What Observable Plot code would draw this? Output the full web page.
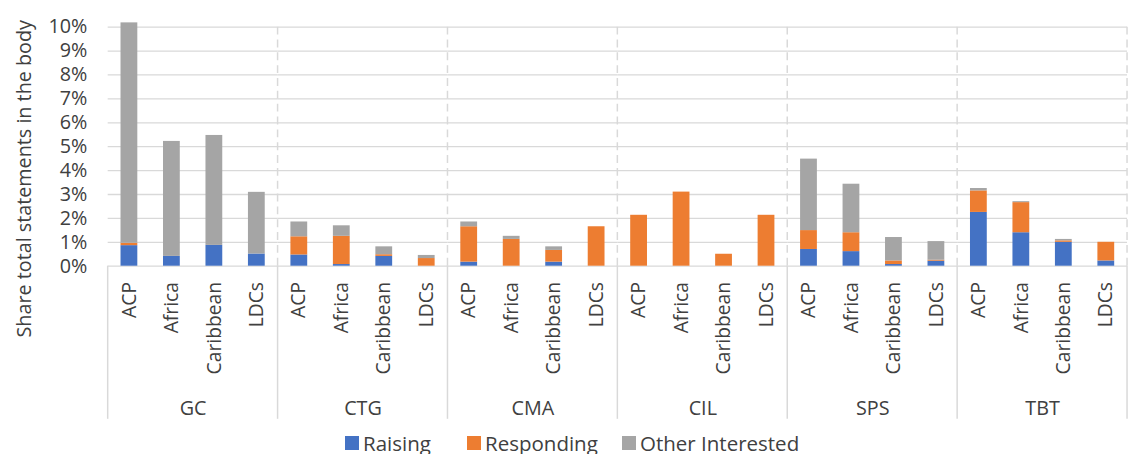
<!DOCTYPE html>
<html>
<head>
<meta charset="utf-8">
<script src="https://cdn.jsdelivr.net/npm/d3@7"></script>
<script src="https://cdn.jsdelivr.net/npm/@observablehq/plot@0.6"></script>
<style>
  html, body { margin: 0; padding: 0; background: #fff; overflow: hidden; }
  #chart svg { display: block; }
  .legend { position: relative; margin-top: 1px; height: 22px; font-family: "Open Sans", sans-serif; font-size: 20.5px; color: #404040; line-height: 22px; white-space: nowrap; }
  .legend .item { position: absolute; top: 0; display: flex; align-items: center; }
  .legend .sw { width: 14px; height: 14px; margin-right: 4px; }
</style>
</head>
<body>
<div id="chart"></div>
<div class="legend" id="legend"></div>
<script>
const groups = ["GC", "CTG", "CMA", "CIL", "SPS", "TBT"];
const categories = ["ACP", "Africa", "Caribbean", "LDCs"];
const series = ["Raising", "Responding", "Other Interested"];
const colors = ["#4472C4", "#ED7D31", "#A5A5A5"];
const yTicks = [0, 1, 2, 3, 4, 5, 6, 7, 8, 9, 10];
const yTitle = "Share total statements in the body";

// values in % (order: groups x categories)
const raising    = [0.86, 0.41, 0.87, 0.51,  0.47, 0.07, 0.41, 0.00,  0.17, 0.00, 0.17, 0.00,  0.00, 0.00, 0.00, 0.00,  0.70, 0.61, 0.07, 0.21,  2.25, 1.40, 1.00, 0.22];
const responding = [0.10, 0.00, 0.00, 0.00,  0.76, 1.18, 0.07, 0.32,  1.48, 1.12, 0.49, 1.65,  2.13, 3.10, 0.50, 2.13,  0.79, 0.79, 0.15, 0.04,  0.90, 1.26, 0.06, 0.78];
const other      = [9.22, 4.81, 4.60, 2.58,  0.62, 0.44, 0.33, 0.13,  0.20, 0.13, 0.15, 0.00,  0.00, 0.00, 0.00, 0.00,  2.99, 2.03, 0.98, 0.78,  0.10, 0.04, 0.06, 0.00];

const seriesValues = [raising, responding, other];
const rows = [];
groups.forEach((g, gi) => categories.forEach((c, ci) => {
  series.forEach((s, si) => {
    rows.push({group: g, category: c, series: s, value: seriesValues[si][gi * categories.length + ci]});
  });
}));

const textColor = "#404040";
const chart = Plot.plot({
  width: 1145,
  height: 436,
  marginLeft: 107,
  marginRight: 3,
  marginTop: 27,
  marginBottom: 167,
  style: {fontFamily: "Open Sans", color: textColor, background: "#fff", overflow: "visible"},
  fx: {domain: groups, padding: 0},
  x: {domain: categories, paddingInner: 0.6, paddingOuter: 0.3},
  y: {domain: [0, 10]},
  color: {domain: series, range: colors},
  marks: [
    Plot.gridY(yTicks, {stroke: "#d9d9d9", strokeOpacity: 1, strokeWidth: 1.3}),
    Plot.barY(rows, Plot.stackY({fx: "group", x: "category", y: "value", fill: "series"})),
    Plot.axisY(yTicks, {tickFormat: d => d + "%", tickSize: 0, tickPadding: 21, fontSize: 20, label: null, fill: textColor}),
    Plot.axisX({tickRotate: -90, tickSize: 0, tickPadding: 16, fontSize: 19.5, label: null, fill: textColor}),
    Plot.axisFx({anchor: "bottom", tickSize: 0, tickPadding: 136, fontSize: 20, label: null, fill: textColor})
  ]
});
document.getElementById("chart").appendChild(chart);

const fx = chart.scale("fx");
const y = chart.scale("y");
const svg = d3.select(chart);

// y-axis title
svg.append("text")
  .attr("transform", `translate(24,${(y.apply(0) + y.apply(10)) / 2 + 33}) rotate(-90)`)
  .attr("text-anchor", "middle")
  .attr("dominant-baseline", "central")
  .attr("font-size", 20)
  .attr("fill", textColor)
  .text(yTitle);

// group separators, placed with Plot's own scales
const edges = groups.map(g => fx.apply(g)).concat([fx.apply(groups[groups.length - 1]) + fx.bandwidth]);
const sep = svg.append("g").attr("stroke", "#d9d9d9").attr("stroke-width", 1.5);
edges.forEach((e, i) => {
  if (i > 0) {
    sep.append("line").attr("x1", e).attr("x2", e).attr("y1", y.apply(10)).attr("y2", y.apply(0)).attr("stroke-dasharray", "8,5");
  }
  sep.append("line").attr("x1", e).attr("x2", e).attr("y1", y.apply(0)).attr("y2", y.apply(0) + 155);
});

// legend
const legendLeft = [345, 467, 622];
const legend = document.getElementById("legend");
series.forEach((s, i) => {
  const item = document.createElement("div");
  item.className = "item";
  item.style.left = legendLeft[i] + "px";
  const sw = document.createElement("span");
  sw.className = "sw";
  sw.style.background = colors[i];
  const label = document.createElement("span");
  label.textContent = s;
  item.appendChild(sw);
  item.appendChild(label);
  legend.appendChild(item);
});
</script>
</body>
</html>
